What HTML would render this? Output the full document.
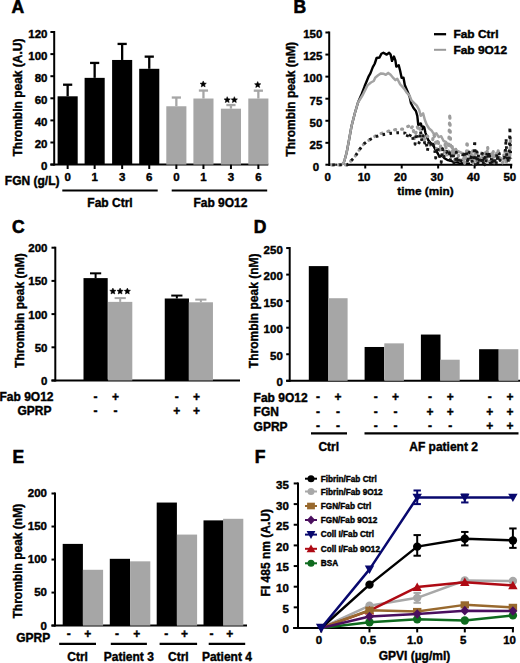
<!DOCTYPE html>
<html><head><meta charset="utf-8"><style>
html,body{margin:0;padding:0;background:#fff;}
svg{display:block;font-family:"Liberation Sans",sans-serif;font-weight:bold;}
</style></head><body>
<svg width="520" height="663" viewBox="0 0 520 663">
<rect width="520" height="663" fill="#fff"/>
<text x="11.50" y="12.80" font-size="17.5" stroke="#000" stroke-width="0.6">A</text>
<line x1="54.20" y1="31.00" x2="54.20" y2="165.60" stroke="#000" stroke-width="2.0" />
<line x1="50.40" y1="164.60" x2="54.20" y2="164.60" stroke="#000" stroke-width="2.0" />
<text x="47.50" y="170.40" font-size="11.5" text-anchor="end" fill="#000" stroke="#000" stroke-width="0.4" >0</text>
<line x1="50.40" y1="142.50" x2="54.20" y2="142.50" stroke="#000" stroke-width="2.0" />
<text x="47.50" y="148.30" font-size="11.5" text-anchor="end" fill="#000" stroke="#000" stroke-width="0.4" >20</text>
<line x1="50.40" y1="120.40" x2="54.20" y2="120.40" stroke="#000" stroke-width="2.0" />
<text x="47.50" y="126.20" font-size="11.5" text-anchor="end" fill="#000" stroke="#000" stroke-width="0.4" >40</text>
<line x1="50.40" y1="98.30" x2="54.20" y2="98.30" stroke="#000" stroke-width="2.0" />
<text x="47.50" y="104.10" font-size="11.5" text-anchor="end" fill="#000" stroke="#000" stroke-width="0.4" >60</text>
<line x1="50.40" y1="76.20" x2="54.20" y2="76.20" stroke="#000" stroke-width="2.0" />
<text x="47.50" y="82.00" font-size="11.5" text-anchor="end" fill="#000" stroke="#000" stroke-width="0.4" >80</text>
<line x1="50.40" y1="54.10" x2="54.20" y2="54.10" stroke="#000" stroke-width="2.0" />
<text x="47.50" y="59.90" font-size="11.5" text-anchor="end" fill="#000" stroke="#000" stroke-width="0.4" >100</text>
<line x1="50.40" y1="32.00" x2="54.20" y2="32.00" stroke="#000" stroke-width="2.0" />
<text x="47.50" y="37.80" font-size="11.5" text-anchor="end" fill="#000" stroke="#000" stroke-width="0.4" >120</text>
<line x1="50.40" y1="164.60" x2="268.30" y2="164.60" stroke="#000" stroke-width="2.0" />
<text x="0" y="0" font-size="12" text-anchor="middle" stroke="#000" stroke-width="0.4" transform="translate(22.00,97.50) rotate(-90)">Thrombin peak (A.U)</text>
<rect x="57.60" y="96.31" width="20.10" height="68.29" fill="#000"/>
<line x1="67.65" y1="96.31" x2="67.65" y2="84.71" stroke="#000" stroke-width="2.3" />
<line x1="63.05" y1="84.71" x2="72.25" y2="84.71" stroke="#000" stroke-width="2.3" />
<line x1="67.65" y1="164.60" x2="67.65" y2="169.00" stroke="#000" stroke-width="2.0" />
<text x="67.65" y="181.20" font-size="11.5" text-anchor="middle" fill="#000" stroke="#000" stroke-width="0.4" >0</text>
<rect x="84.60" y="77.86" width="20.10" height="86.74" fill="#000"/>
<line x1="94.65" y1="77.86" x2="94.65" y2="62.94" stroke="#000" stroke-width="2.3" />
<line x1="90.05" y1="62.94" x2="99.25" y2="62.94" stroke="#000" stroke-width="2.3" />
<line x1="94.65" y1="164.60" x2="94.65" y2="169.00" stroke="#000" stroke-width="2.0" />
<text x="94.65" y="181.20" font-size="11.5" text-anchor="middle" fill="#000" stroke="#000" stroke-width="0.4" >1</text>
<rect x="112.10" y="59.96" width="20.10" height="104.64" fill="#000"/>
<line x1="122.15" y1="59.96" x2="122.15" y2="43.93" stroke="#000" stroke-width="2.3" />
<line x1="117.55" y1="43.93" x2="126.75" y2="43.93" stroke="#000" stroke-width="2.3" />
<line x1="122.15" y1="164.60" x2="122.15" y2="169.00" stroke="#000" stroke-width="2.0" />
<text x="122.15" y="181.20" font-size="11.5" text-anchor="middle" fill="#000" stroke="#000" stroke-width="0.4" >3</text>
<rect x="139.20" y="68.80" width="20.10" height="95.80" fill="#000"/>
<line x1="149.25" y1="68.80" x2="149.25" y2="56.64" stroke="#000" stroke-width="2.3" />
<line x1="144.65" y1="56.64" x2="153.85" y2="56.64" stroke="#000" stroke-width="2.3" />
<line x1="149.25" y1="164.60" x2="149.25" y2="169.00" stroke="#000" stroke-width="2.0" />
<text x="149.25" y="181.20" font-size="11.5" text-anchor="middle" fill="#000" stroke="#000" stroke-width="0.4" >6</text>
<rect x="166.30" y="106.26" width="20.10" height="58.34" fill="#a6a6a6"/>
<line x1="176.35" y1="106.26" x2="176.35" y2="97.53" stroke="#a6a6a6" stroke-width="2.3" />
<line x1="171.75" y1="97.53" x2="180.95" y2="97.53" stroke="#a6a6a6" stroke-width="2.3" />
<line x1="176.35" y1="164.60" x2="176.35" y2="169.00" stroke="#000" stroke-width="2.0" />
<text x="176.35" y="181.20" font-size="11.5" text-anchor="middle" fill="#000" stroke="#000" stroke-width="0.4" >0</text>
<rect x="193.40" y="98.52" width="20.10" height="66.08" fill="#a6a6a6"/>
<line x1="203.45" y1="98.52" x2="203.45" y2="90.56" stroke="#a6a6a6" stroke-width="2.3" />
<line x1="198.85" y1="90.56" x2="208.05" y2="90.56" stroke="#a6a6a6" stroke-width="2.3" />
<line x1="203.45" y1="164.60" x2="203.45" y2="169.00" stroke="#000" stroke-width="2.0" />
<text x="203.45" y="181.20" font-size="11.5" text-anchor="middle" fill="#000" stroke="#000" stroke-width="0.4" >1</text>
<rect x="220.90" y="108.69" width="20.10" height="55.91" fill="#a6a6a6"/>
<line x1="230.95" y1="108.69" x2="230.95" y2="105.04" stroke="#a6a6a6" stroke-width="2.3" />
<line x1="226.35" y1="105.04" x2="235.55" y2="105.04" stroke="#a6a6a6" stroke-width="2.3" />
<line x1="230.95" y1="164.60" x2="230.95" y2="169.00" stroke="#000" stroke-width="2.0" />
<text x="230.95" y="181.20" font-size="11.5" text-anchor="middle" fill="#000" stroke="#000" stroke-width="0.4" >3</text>
<rect x="248.30" y="98.52" width="20.10" height="66.08" fill="#a6a6a6"/>
<line x1="258.35" y1="98.52" x2="258.35" y2="90.68" stroke="#a6a6a6" stroke-width="2.3" />
<line x1="253.75" y1="90.68" x2="262.95" y2="90.68" stroke="#a6a6a6" stroke-width="2.3" />
<line x1="258.35" y1="164.60" x2="258.35" y2="169.00" stroke="#000" stroke-width="2.0" />
<text x="258.35" y="181.20" font-size="11.5" text-anchor="middle" fill="#000" stroke="#000" stroke-width="0.4" >6</text>
<text x="59.50" y="185.00" font-size="12" text-anchor="end" fill="#000" stroke="#000" stroke-width="0.4" >FGN (g/L)</text>
<line x1="62.30" y1="190.50" x2="157.70" y2="190.50" stroke="#000" stroke-width="2.2" />
<line x1="171.70" y1="190.50" x2="267.20" y2="190.50" stroke="#000" stroke-width="2.2" />
<text x="110.00" y="206.60" font-size="12" text-anchor="middle" fill="#000" stroke="#000" stroke-width="0.4" >Fab Ctrl</text>
<text x="220.40" y="206.60" font-size="12" text-anchor="middle" fill="#000" stroke="#000" stroke-width="0.4" >Fab 9O12</text>
<polygon points="203.20,80.95 204.11,83.00 206.34,83.23 204.67,84.73 205.14,86.92 203.20,85.80 201.26,86.92 201.73,84.73 200.06,83.23 202.29,83.00" fill="#000" stroke="#000" stroke-width="0.5" stroke-linejoin="round"/>
<polygon points="227.20,96.65 228.11,98.70 230.34,98.93 228.67,100.43 229.14,102.62 227.20,101.50 225.26,102.62 225.73,100.43 224.06,98.93 226.29,98.70" fill="#000" stroke="#000" stroke-width="0.5" stroke-linejoin="round"/>
<polygon points="234.35,96.65 235.26,98.70 237.49,98.93 235.82,100.43 236.29,102.62 234.35,101.50 232.41,102.62 232.88,100.43 231.21,98.93 233.44,98.70" fill="#000" stroke="#000" stroke-width="0.5" stroke-linejoin="round"/>
<polygon points="257.70,81.55 258.61,83.60 260.84,83.83 259.17,85.33 259.64,87.52 257.70,86.40 255.76,87.52 256.23,85.33 254.56,83.83 256.79,83.60" fill="#000" stroke="#000" stroke-width="0.5" stroke-linejoin="round"/>
<text x="293.50" y="12.50" font-size="17.5" stroke="#000" stroke-width="0.6">B</text>
<line x1="329.20" y1="31.50" x2="329.20" y2="165.90" stroke="#000" stroke-width="2.0" />
<line x1="325.40" y1="142.83" x2="329.20" y2="142.83" stroke="#000" stroke-width="2.0" />
<text x="322.40" y="148.63" font-size="11.5" text-anchor="end" fill="#000" stroke="#000" stroke-width="0.4" >25</text>
<line x1="325.40" y1="120.77" x2="329.20" y2="120.77" stroke="#000" stroke-width="2.0" />
<text x="322.40" y="126.56" font-size="11.5" text-anchor="end" fill="#000" stroke="#000" stroke-width="0.4" >50</text>
<line x1="325.40" y1="98.70" x2="329.20" y2="98.70" stroke="#000" stroke-width="2.0" />
<text x="322.40" y="104.50" font-size="11.5" text-anchor="end" fill="#000" stroke="#000" stroke-width="0.4" >75</text>
<line x1="325.40" y1="76.63" x2="329.20" y2="76.63" stroke="#000" stroke-width="2.0" />
<text x="322.40" y="82.43" font-size="11.5" text-anchor="end" fill="#000" stroke="#000" stroke-width="0.4" >100</text>
<line x1="325.40" y1="54.56" x2="329.20" y2="54.56" stroke="#000" stroke-width="2.0" />
<text x="322.40" y="60.36" font-size="11.5" text-anchor="end" fill="#000" stroke="#000" stroke-width="0.4" >125</text>
<line x1="325.40" y1="32.50" x2="329.20" y2="32.50" stroke="#000" stroke-width="2.0" />
<text x="322.40" y="38.30" font-size="11.5" text-anchor="end" fill="#000" stroke="#000" stroke-width="0.4" >150</text>
<text x="319.20" y="170.70" font-size="11.5" text-anchor="end" fill="#000" stroke="#000" stroke-width="0.4" >0</text>
<line x1="325.40" y1="164.70" x2="331.50" y2="164.70" stroke="#000" stroke-width="2.0" />
<line x1="344.60" y1="164.70" x2="512.30" y2="164.70" stroke="#000" stroke-width="2.0" />
<rect x="333.20" y="163.60" width="2.00" height="2.20" fill="#222"/>
<rect x="335.20" y="163.60" width="2.00" height="2.20" fill="#222"/>
<rect x="338.20" y="163.60" width="2.00" height="2.20" fill="#222"/>
<line x1="365.25" y1="164.70" x2="365.25" y2="168.50" stroke="#000" stroke-width="2.0" />
<line x1="401.70" y1="164.70" x2="401.70" y2="168.50" stroke="#000" stroke-width="2.0" />
<line x1="438.15" y1="164.70" x2="438.15" y2="168.50" stroke="#000" stroke-width="2.0" />
<line x1="474.60" y1="164.70" x2="474.60" y2="168.50" stroke="#000" stroke-width="2.0" />
<line x1="511.05" y1="164.70" x2="511.05" y2="168.50" stroke="#000" stroke-width="2.0" />
<text x="327.60" y="181.20" font-size="11.5" text-anchor="middle" fill="#000" stroke="#000" stroke-width="0.4" >0</text>
<text x="364.05" y="181.20" font-size="11.5" text-anchor="middle" fill="#000" stroke="#000" stroke-width="0.4" >10</text>
<text x="400.50" y="181.20" font-size="11.5" text-anchor="middle" fill="#000" stroke="#000" stroke-width="0.4" >20</text>
<text x="436.95" y="181.20" font-size="11.5" text-anchor="middle" fill="#000" stroke="#000" stroke-width="0.4" >30</text>
<text x="473.40" y="181.20" font-size="11.5" text-anchor="middle" fill="#000" stroke="#000" stroke-width="0.4" >40</text>
<text x="509.85" y="181.20" font-size="11.5" text-anchor="middle" fill="#000" stroke="#000" stroke-width="0.4" >50</text>
<text x="425.40" y="195.30" font-size="11.8" text-anchor="middle" fill="#000" stroke="#000" stroke-width="0.4" >time (min)</text>
<text x="0" y="0" font-size="12" text-anchor="middle" stroke="#000" stroke-width="0.4" transform="translate(295.30,99.30) rotate(-90)">Thrombin peak (nM)</text>
<line x1="434.00" y1="34.20" x2="446.10" y2="34.20" stroke="#000" stroke-width="2.3" />
<line x1="434.00" y1="49.80" x2="446.10" y2="49.80" stroke="#9a9a9a" stroke-width="2.0" />
<text x="0" y="0" font-size="11" stroke="#000" stroke-width="0.4" transform="translate(453.4,37.8) scale(1.085,1)">Fab Ctrl</text>
<text x="0" y="0" font-size="11" stroke="#000" stroke-width="0.4" transform="translate(453.4,53.8) scale(1.085,1)">Fab 9O12</text>
<polyline points="340.00,164.90 343.50,163.50 344.60,160.00 346.60,152.80 349.10,139.60 351.50,126.30 354.90,113.00 358.00,102.50 361.70,94.00 364.60,86.30 368.50,76.70 370.40,73.40 372.80,67.10 374.70,63.75 376.60,58.00 379.50,57.50 381.40,53.70 383.40,52.70 386.70,54.60 389.10,52.70 390.60,54.60 392.00,60.90 393.90,56.50 395.40,60.40 396.30,66.60 398.75,65.20 400.20,71.00 401.60,77.70 403.50,77.80 404.80,85.00 407.20,90.80 409.60,96.50 411.00,103.30 413.50,108.00 415.90,111.00 417.30,115.80 418.30,125.40 420.20,123.50 421.00,123.70 422.10,129.20 423.20,126.50 424.30,127.50 425.30,132.30 426.70,136.20 428.20,140.00 430.60,142.90 433.50,145.80 435.40,149.60 437.80,153.50 439.20,156.30 442.10,155.40 444.50,158.30 447.90,160.20 451.70,161.20 455.60,162.10 462.00,163.20 470.00,163.80" fill="none" stroke="#000" stroke-width="2.4" stroke-linejoin="round" />
<polyline points="340.00,164.90 343.50,163.50 344.60,160.00 346.60,152.80 349.10,139.60 351.50,126.30 354.90,113.00 358.00,102.50 362.70,95.00 367.50,85.40 370.90,82.50 373.75,81.00 375.20,77.70 378.10,75.30 381.00,73.40 383.80,73.80 385.80,74.80 388.20,72.90 390.60,74.80 393.50,78.20 395.40,80.10 397.30,78.70 400.20,84.40 402.10,86.30 404.30,88.80 406.70,92.70 409.60,95.60 411.50,100.40 414.40,103.30 416.80,105.70 419.20,110.00 420.70,115.80 423.10,113.40 424.80,119.80 426.70,124.60 429.10,128.50 431.50,130.40 433.90,134.20 436.30,133.30 438.75,137.10 441.20,136.20 443.60,141.00 446.00,141.90 448.80,145.80 451.00,145.50 453.70,149.60 458.50,151.50 463.00,153.50 468.00,154.50 473.00,156.50 479.80,157.70 486.00,157.00 494.60,155.50 500.00,158.00 505.20,159.80 510.00,161.00" fill="none" stroke="#a3a3a3" stroke-width="2.5" stroke-linejoin="round" />
<polyline points="331.72,164.90 333.36,164.90 335.00,164.90 336.64,164.90 338.28,164.90 339.92,164.90 341.56,164.90 343.20,164.90 344.84,164.90 346.48,164.90 348.12,164.90 349.76,162.14 351.40,160.42 353.04,158.72 354.68,157.03 356.32,154.55 357.96,151.88 359.60,149.39 361.24,147.21 362.88,145.04 364.52,143.38 366.16,142.19 367.80,141.01 369.44,139.83 371.08,138.78 372.72,137.77 374.36,136.76 376.00,135.78 377.64,135.04 379.28,134.30 380.92,133.56 382.56,133.00 384.20,132.53 385.84,132.06 387.48,131.56 389.12,131.02 390.76,130.47 392.41,130.18 394.05,129.88 395.69,129.58 397.33,129.28 398.97,129.15 400.61,129.15 402.25,129.15 403.89,129.15 405.53,127.91 407.00,126.66 408.48,126.33 409.96,124.68 411.43,127.97 412.91,125.83 414.38,138.87 415.86,133.13 417.34,126.82 418.81,131.40 420.29,128.27 421.77,139.83 423.24,135.23 424.72,140.11 426.19,135.83 427.67,136.26 429.15,147.13 430.62,144.50 432.10,144.36 433.58,134.08 435.05,137.70 436.53,149.37 438.00,139.08 439.48,151.67 440.96,144.18 442.43,153.81 443.91,156.98 445.39,142.60 446.86,155.25 448.34,156.11 449.81,113.70 450.63,146.01 451.45,156.84 452.27,145.51 453.09,153.50 453.91,151.59 454.73,160.48 455.55,148.02 456.38,154.26 457.20,150.37 458.02,151.39 458.84,159.80 459.66,158.92 460.48,161.67 461.30,161.96 462.12,163.10 462.94,159.76 463.76,155.50 464.58,163.97 465.40,154.44 466.22,159.25 467.04,141.07 467.86,152.46 468.68,157.23 469.50,159.56 470.32,157.22 471.14,154.07 471.96,163.21 472.78,150.25 473.60,163.69 474.42,153.43 475.24,152.08 476.06,163.76 476.88,152.89 477.70,158.85 478.52,155.85 479.34,163.89 480.16,163.36 480.98,161.46 481.80,150.53 482.62,161.24 483.44,153.34 484.26,150.89 485.08,150.71 485.90,159.15 486.72,159.01 487.54,146.36 488.36,153.06 489.18,162.49 490.00,153.45 490.82,152.76 491.64,151.88 492.46,163.50 493.28,150.66 494.10,162.73 494.92,159.20 495.74,155.39 496.56,151.05 497.38,159.22 498.20,150.96 499.02,156.32 499.84,159.60 500.66,159.54 501.48,161.51 502.30,162.91 503.12,161.91 503.94,154.28 504.76,149.94 505.58,161.74 506.40,163.33 507.22,150.08 508.04,156.48 508.86,158.28 509.68,160.67 510.50,138.42" fill="none" stroke="#9c9c9c" stroke-width="3.2" stroke-linejoin="round" stroke-dasharray="1.0 6.0" stroke-linecap="round" stroke-linejoin="miter"/>
<polyline points="331.72,164.90 333.25,164.90 334.78,164.90 336.31,164.90 337.84,164.90 339.37,164.90 340.90,164.90 342.43,164.90 343.96,164.90 345.49,164.90 347.03,164.90 348.56,164.16 350.09,161.77 351.62,160.19 353.15,158.61 354.68,157.03 356.21,154.73 357.74,152.24 359.27,149.82 360.80,147.79 362.33,145.77 363.86,143.85 365.40,142.75 366.93,141.64 368.46,140.54 369.99,139.48 371.52,138.74 373.05,138.00 374.58,137.25 376.11,136.56 377.64,136.09 379.17,135.61 380.70,135.14 382.24,134.77 383.77,134.51 385.30,134.25 386.83,133.99 388.36,133.72 389.89,133.45 391.42,133.24 392.95,133.11 394.48,132.98 396.01,132.85 397.54,132.72 399.08,132.74 400.61,132.84 402.14,132.93 403.67,133.02 405.20,133.11 406.73,137.43 408.11,133.70 409.49,136.76 410.86,134.06 412.24,134.35 413.62,142.87 415.00,144.21 416.37,133.16 417.75,141.93 419.13,142.88 420.51,130.96 421.89,141.20 423.26,135.71 424.64,143.03 426.02,141.13 427.40,150.72 428.78,143.14 430.15,139.99 431.53,147.04 432.91,144.16 434.29,146.36 435.66,158.05 437.04,146.76 438.42,150.68 439.80,156.77 441.18,162.51 442.55,148.74 443.93,156.64 445.31,153.27 446.69,151.41 448.06,155.28 449.44,152.77 450.21,160.20 450.97,154.47 451.74,159.50 452.50,152.57 453.27,153.37 454.03,164.41 454.80,163.86 455.57,162.72 456.33,152.15 457.10,159.62 457.86,156.93 458.63,161.53 459.39,158.62 460.16,160.33 460.92,160.83 461.69,157.52 462.45,157.53 463.22,153.01 463.99,156.15 464.75,152.66 465.52,153.69 466.28,151.79 467.05,156.30 467.81,163.48 468.58,153.63 469.34,152.16 470.11,153.01 470.87,157.75 471.64,155.70 472.41,162.80 473.17,154.04 473.94,157.68 474.70,140.18 475.47,164.89 476.23,153.72 477.00,151.80 477.76,164.53 478.53,154.48 479.29,159.99 480.06,163.65 480.83,161.63 481.59,154.92 482.36,153.46 483.12,164.90 483.89,157.10 484.65,164.90 485.42,155.64 486.18,161.11 486.95,153.34 487.71,151.93 488.48,158.64 489.25,151.68 490.01,161.41 490.78,164.70 491.54,157.31 492.31,164.90 493.07,162.99 493.84,160.02 494.60,157.16 495.37,163.58 496.13,164.90 496.90,153.53 497.67,161.35 498.43,152.24 499.20,153.12 499.96,160.45 500.73,159.28 501.49,158.44 502.26,156.69 503.02,157.37 503.79,157.88 504.55,157.02 505.32,152.50 506.09,138.42 506.85,159.69 507.62,155.61 508.38,162.43 509.15,161.53 509.91,126.94 510.68,158.42" fill="none" stroke="#151515" stroke-width="2.9" stroke-linejoin="round" stroke-dasharray="2.6 4.4" stroke-dashoffset="-0.5" stroke-linejoin="miter"/>
<text x="12.00" y="232.80" font-size="17.5" stroke="#000" stroke-width="0.6">C</text>
<line x1="55.30" y1="246.70" x2="55.30" y2="381.50" stroke="#000" stroke-width="2.0" />
<line x1="51.50" y1="380.50" x2="55.30" y2="380.50" stroke="#000" stroke-width="2.0" />
<text x="47.50" y="385.00" font-size="11.5" text-anchor="end" fill="#000" stroke="#000" stroke-width="0.4" >0</text>
<line x1="51.50" y1="347.30" x2="55.30" y2="347.30" stroke="#000" stroke-width="2.0" />
<text x="47.50" y="351.80" font-size="11.5" text-anchor="end" fill="#000" stroke="#000" stroke-width="0.4" >50</text>
<line x1="51.50" y1="314.10" x2="55.30" y2="314.10" stroke="#000" stroke-width="2.0" />
<text x="47.50" y="318.60" font-size="11.5" text-anchor="end" fill="#000" stroke="#000" stroke-width="0.4" >100</text>
<line x1="51.50" y1="280.90" x2="55.30" y2="280.90" stroke="#000" stroke-width="2.0" />
<text x="47.50" y="285.40" font-size="11.5" text-anchor="end" fill="#000" stroke="#000" stroke-width="0.4" >150</text>
<line x1="51.50" y1="247.70" x2="55.30" y2="247.70" stroke="#000" stroke-width="2.0" />
<text x="47.50" y="252.20" font-size="11.5" text-anchor="end" fill="#000" stroke="#000" stroke-width="0.4" >200</text>
<line x1="51.50" y1="380.50" x2="240.00" y2="380.50" stroke="#000" stroke-width="2.0" />
<text x="0" y="0" font-size="12" text-anchor="middle" stroke="#000" stroke-width="0.4" transform="translate(23.70,310.60) rotate(-90)">Thrombin peak (nM)</text>
<rect x="83.50" y="278.11" width="24.20" height="102.39" fill="#000"/>
<line x1="95.60" y1="278.11" x2="95.60" y2="273.33" stroke="#000" stroke-width="2" />
<line x1="90.00" y1="273.33" x2="101.20" y2="273.33" stroke="#000" stroke-width="2" />
<rect x="108.10" y="301.88" width="24.20" height="78.62" fill="#a6a6a6"/>
<line x1="120.20" y1="301.88" x2="120.20" y2="298.10" stroke="#a6a6a6" stroke-width="2" />
<line x1="114.60" y1="298.10" x2="125.80" y2="298.10" stroke="#a6a6a6" stroke-width="2" />
<rect x="164.75" y="298.50" width="24.20" height="82.00" fill="#000"/>
<line x1="176.85" y1="298.50" x2="176.85" y2="295.57" stroke="#000" stroke-width="2" />
<line x1="171.25" y1="295.57" x2="182.45" y2="295.57" stroke="#000" stroke-width="2" />
<rect x="188.75" y="302.28" width="24.20" height="78.22" fill="#a6a6a6"/>
<line x1="200.85" y1="302.28" x2="200.85" y2="299.62" stroke="#a6a6a6" stroke-width="2" />
<line x1="195.25" y1="299.62" x2="206.45" y2="299.62" stroke="#a6a6a6" stroke-width="2" />
<polygon points="112.90,288.05 113.81,290.10 116.04,290.33 114.37,291.83 114.84,294.02 112.90,292.90 110.96,294.02 111.43,291.83 109.76,290.33 111.99,290.10" fill="#000" stroke="#000" stroke-width="0.5" stroke-linejoin="round"/>
<polygon points="120.10,288.05 121.01,290.10 123.24,290.33 121.57,291.83 122.04,294.02 120.10,292.90 118.16,294.02 118.63,291.83 116.96,290.33 119.19,290.10" fill="#000" stroke="#000" stroke-width="0.5" stroke-linejoin="round"/>
<polygon points="127.35,288.05 128.26,290.10 130.49,290.33 128.82,291.83 129.29,294.02 127.35,292.90 125.41,294.02 125.88,291.83 124.21,290.33 126.44,290.10" fill="#000" stroke="#000" stroke-width="0.5" stroke-linejoin="round"/>
<text x="95.60" y="400.60" font-size="12" text-anchor="middle" fill="#000" stroke="#000" stroke-width="0.4" >-</text>
<text x="95.60" y="414.50" font-size="12" text-anchor="middle" fill="#000" stroke="#000" stroke-width="0.4" >-</text>
<text x="115.40" y="400.60" font-size="12" text-anchor="middle" fill="#000" stroke="#000" stroke-width="0.4" >+</text>
<text x="115.40" y="414.50" font-size="12" text-anchor="middle" fill="#000" stroke="#000" stroke-width="0.4" >-</text>
<text x="176.80" y="400.60" font-size="12" text-anchor="middle" fill="#000" stroke="#000" stroke-width="0.4" >-</text>
<text x="176.80" y="414.50" font-size="12" text-anchor="middle" fill="#000" stroke="#000" stroke-width="0.4" >+</text>
<text x="196.50" y="400.60" font-size="12" text-anchor="middle" fill="#000" stroke="#000" stroke-width="0.4" >+</text>
<text x="196.50" y="414.50" font-size="12" text-anchor="middle" fill="#000" stroke="#000" stroke-width="0.4" >+</text>
<text x="53.50" y="400.80" font-size="12" text-anchor="end" fill="#000" stroke="#000" stroke-width="0.4" >Fab 9O12</text>
<text x="51.50" y="414.50" font-size="12" text-anchor="end" fill="#000" stroke="#000" stroke-width="0.4" >GPRP</text>
<text x="253.80" y="232.60" font-size="17.5" stroke="#000" stroke-width="0.6">D</text>
<line x1="289.70" y1="247.05" x2="289.70" y2="381.80" stroke="#000" stroke-width="2.0" />
<line x1="286.20" y1="380.80" x2="289.70" y2="380.80" stroke="#000" stroke-width="2.0" />
<text x="282.80" y="386.30" font-size="11.5" text-anchor="end" fill="#000" stroke="#000" stroke-width="0.4" >0</text>
<line x1="286.20" y1="354.25" x2="289.70" y2="354.25" stroke="#000" stroke-width="2.0" />
<text x="282.80" y="359.75" font-size="11.5" text-anchor="end" fill="#000" stroke="#000" stroke-width="0.4" >50</text>
<line x1="286.20" y1="327.70" x2="289.70" y2="327.70" stroke="#000" stroke-width="2.0" />
<text x="282.80" y="333.20" font-size="11.5" text-anchor="end" fill="#000" stroke="#000" stroke-width="0.4" >100</text>
<line x1="286.20" y1="301.15" x2="289.70" y2="301.15" stroke="#000" stroke-width="2.0" />
<text x="282.80" y="306.65" font-size="11.5" text-anchor="end" fill="#000" stroke="#000" stroke-width="0.4" >150</text>
<line x1="286.20" y1="274.60" x2="289.70" y2="274.60" stroke="#000" stroke-width="2.0" />
<text x="282.80" y="280.10" font-size="11.5" text-anchor="end" fill="#000" stroke="#000" stroke-width="0.4" >200</text>
<line x1="286.20" y1="248.05" x2="289.70" y2="248.05" stroke="#000" stroke-width="2.0" />
<text x="282.80" y="253.55" font-size="11.5" text-anchor="end" fill="#000" stroke="#000" stroke-width="0.4" >250</text>
<line x1="286.20" y1="380.80" x2="520.00" y2="380.80" stroke="#000" stroke-width="2.0" />
<text x="0" y="0" font-size="12" text-anchor="middle" stroke="#000" stroke-width="0.4" transform="translate(257.50,310.80) rotate(-90)">Thrombin peak (nM)</text>
<rect x="308.80" y="266.10" width="19.60" height="114.70" fill="#000"/>
<rect x="328.00" y="298.23" width="19.60" height="82.57" fill="#a6a6a6"/>
<rect x="364.60" y="346.98" width="19.60" height="33.82" fill="#000"/>
<rect x="384.30" y="343.36" width="19.60" height="37.44" fill="#a6a6a6"/>
<rect x="420.90" y="334.55" width="19.60" height="46.25" fill="#000"/>
<rect x="440.10" y="359.72" width="19.60" height="21.08" fill="#a6a6a6"/>
<rect x="479.10" y="349.21" width="19.60" height="31.59" fill="#000"/>
<rect x="498.70" y="349.21" width="19.60" height="31.59" fill="#a6a6a6"/>
<text x="318.00" y="401.40" font-size="12" text-anchor="middle" fill="#000" stroke="#000" stroke-width="0.4" >-</text>
<text x="318.00" y="415.80" font-size="12" text-anchor="middle" fill="#000" stroke="#000" stroke-width="0.4" >-</text>
<text x="318.00" y="429.80" font-size="12" text-anchor="middle" fill="#000" stroke="#000" stroke-width="0.4" >-</text>
<text x="338.10" y="401.40" font-size="12" text-anchor="middle" fill="#000" stroke="#000" stroke-width="0.4" >+</text>
<text x="338.10" y="415.80" font-size="12" text-anchor="middle" fill="#000" stroke="#000" stroke-width="0.4" >-</text>
<text x="338.10" y="429.80" font-size="12" text-anchor="middle" fill="#000" stroke="#000" stroke-width="0.4" >-</text>
<text x="375.70" y="401.40" font-size="12" text-anchor="middle" fill="#000" stroke="#000" stroke-width="0.4" >-</text>
<text x="375.70" y="415.80" font-size="12" text-anchor="middle" fill="#000" stroke="#000" stroke-width="0.4" >-</text>
<text x="375.70" y="429.80" font-size="12" text-anchor="middle" fill="#000" stroke="#000" stroke-width="0.4" >-</text>
<text x="395.60" y="401.40" font-size="12" text-anchor="middle" fill="#000" stroke="#000" stroke-width="0.4" >+</text>
<text x="395.60" y="415.80" font-size="12" text-anchor="middle" fill="#000" stroke="#000" stroke-width="0.4" >-</text>
<text x="395.60" y="429.80" font-size="12" text-anchor="middle" fill="#000" stroke="#000" stroke-width="0.4" >-</text>
<text x="430.00" y="401.40" font-size="12" text-anchor="middle" fill="#000" stroke="#000" stroke-width="0.4" >-</text>
<text x="430.00" y="415.80" font-size="12" text-anchor="middle" fill="#000" stroke="#000" stroke-width="0.4" >+</text>
<text x="430.00" y="429.80" font-size="12" text-anchor="middle" fill="#000" stroke="#000" stroke-width="0.4" >-</text>
<text x="450.20" y="401.40" font-size="12" text-anchor="middle" fill="#000" stroke="#000" stroke-width="0.4" >+</text>
<text x="450.20" y="415.80" font-size="12" text-anchor="middle" fill="#000" stroke="#000" stroke-width="0.4" >+</text>
<text x="450.20" y="429.80" font-size="12" text-anchor="middle" fill="#000" stroke="#000" stroke-width="0.4" >-</text>
<text x="489.70" y="401.40" font-size="12" text-anchor="middle" fill="#000" stroke="#000" stroke-width="0.4" >-</text>
<text x="489.70" y="415.80" font-size="12" text-anchor="middle" fill="#000" stroke="#000" stroke-width="0.4" >+</text>
<text x="489.70" y="429.80" font-size="12" text-anchor="middle" fill="#000" stroke="#000" stroke-width="0.4" >+</text>
<text x="509.90" y="401.40" font-size="12" text-anchor="middle" fill="#000" stroke="#000" stroke-width="0.4" >+</text>
<text x="509.90" y="415.80" font-size="12" text-anchor="middle" fill="#000" stroke="#000" stroke-width="0.4" >+</text>
<text x="509.90" y="429.80" font-size="12" text-anchor="middle" fill="#000" stroke="#000" stroke-width="0.4" >+</text>
<text x="253.60" y="401.80" font-size="12" text-anchor="start" fill="#000" stroke="#000" stroke-width="0.4" >Fab 9O12</text>
<text x="253.60" y="416.40" font-size="12" text-anchor="start" fill="#000" stroke="#000" stroke-width="0.4" >FGN</text>
<text x="253.60" y="430.60" font-size="12" text-anchor="start" fill="#000" stroke="#000" stroke-width="0.4" >GPRP</text>
<line x1="311.00" y1="433.30" x2="347.00" y2="433.30" stroke="#000" stroke-width="2.2" />
<line x1="364.50" y1="433.30" x2="518.50" y2="433.30" stroke="#000" stroke-width="2.2" />
<text x="328.80" y="450.50" font-size="12" text-anchor="middle" fill="#000" stroke="#000" stroke-width="0.4" >Ctrl</text>
<text x="443.60" y="450.50" font-size="12" text-anchor="middle" fill="#000" stroke="#000" stroke-width="0.4" >AF patient 2</text>
<text x="12.50" y="462.80" font-size="17.5" stroke="#000" stroke-width="0.6">E</text>
<line x1="55.00" y1="492.50" x2="55.00" y2="626.60" stroke="#000" stroke-width="2.0" />
<line x1="51.50" y1="625.60" x2="55.00" y2="625.60" stroke="#000" stroke-width="2.0" />
<text x="47.00" y="629.50" font-size="11.5" text-anchor="end" fill="#000" stroke="#000" stroke-width="0.4" >0</text>
<line x1="51.50" y1="592.58" x2="55.00" y2="592.58" stroke="#000" stroke-width="2.0" />
<text x="47.00" y="596.48" font-size="11.5" text-anchor="end" fill="#000" stroke="#000" stroke-width="0.4" >50</text>
<line x1="51.50" y1="559.55" x2="55.00" y2="559.55" stroke="#000" stroke-width="2.0" />
<text x="47.00" y="563.45" font-size="11.5" text-anchor="end" fill="#000" stroke="#000" stroke-width="0.4" >100</text>
<line x1="51.50" y1="526.52" x2="55.00" y2="526.52" stroke="#000" stroke-width="2.0" />
<text x="47.00" y="530.42" font-size="11.5" text-anchor="end" fill="#000" stroke="#000" stroke-width="0.4" >150</text>
<line x1="51.50" y1="493.50" x2="55.00" y2="493.50" stroke="#000" stroke-width="2.0" />
<text x="47.00" y="497.40" font-size="11.5" text-anchor="end" fill="#000" stroke="#000" stroke-width="0.4" >200</text>
<line x1="51.50" y1="625.60" x2="247.00" y2="625.60" stroke="#000" stroke-width="2.0" />
<text x="0" y="0" font-size="12" text-anchor="middle" stroke="#000" stroke-width="0.4" transform="translate(22.20,561.20) rotate(-90)">Thrombin peak (nM)</text>
<rect x="62.70" y="543.90" width="20.20" height="81.70" fill="#000"/>
<rect x="82.90" y="569.79" width="20.20" height="55.81" fill="#a6a6a6"/>
<rect x="109.80" y="558.82" width="20.20" height="66.78" fill="#000"/>
<rect x="130.10" y="561.33" width="20.20" height="64.27" fill="#a6a6a6"/>
<rect x="156.70" y="502.55" width="20.20" height="123.05" fill="#000"/>
<rect x="176.90" y="534.58" width="20.20" height="91.02" fill="#a6a6a6"/>
<rect x="203.50" y="520.38" width="20.20" height="105.22" fill="#000"/>
<rect x="223.10" y="518.80" width="20.20" height="106.80" fill="#a6a6a6"/>
<text x="68.80" y="637.60" font-size="12" text-anchor="middle" fill="#000" stroke="#000" stroke-width="0.4" >-</text>
<text x="87.70" y="637.60" font-size="12" text-anchor="middle" fill="#000" stroke="#000" stroke-width="0.4" >+</text>
<text x="116.90" y="637.60" font-size="12" text-anchor="middle" fill="#000" stroke="#000" stroke-width="0.4" >-</text>
<text x="136.70" y="637.60" font-size="12" text-anchor="middle" fill="#000" stroke="#000" stroke-width="0.4" >+</text>
<text x="166.30" y="637.60" font-size="12" text-anchor="middle" fill="#000" stroke="#000" stroke-width="0.4" >-</text>
<text x="184.60" y="637.60" font-size="12" text-anchor="middle" fill="#000" stroke="#000" stroke-width="0.4" >+</text>
<text x="211.50" y="637.60" font-size="12" text-anchor="middle" fill="#000" stroke="#000" stroke-width="0.4" >-</text>
<text x="229.80" y="637.60" font-size="12" text-anchor="middle" fill="#000" stroke="#000" stroke-width="0.4" >+</text>
<text x="50.30" y="642.30" font-size="12" text-anchor="end" fill="#000" stroke="#000" stroke-width="0.4" >GPRP</text>
<line x1="59.20" y1="643.80" x2="96.00" y2="643.80" stroke="#000" stroke-width="2.2" />
<text x="77.60" y="661.00" font-size="12" text-anchor="middle" fill="#000" stroke="#000" stroke-width="0.4" >Ctrl</text>
<line x1="110.80" y1="643.80" x2="146.90" y2="643.80" stroke="#000" stroke-width="2.2" />
<text x="128.85" y="661.00" font-size="12" text-anchor="middle" fill="#000" stroke="#000" stroke-width="0.4" >Patient 3</text>
<line x1="159.60" y1="643.80" x2="197.10" y2="643.80" stroke="#000" stroke-width="2.2" />
<text x="178.35" y="661.00" font-size="12" text-anchor="middle" fill="#000" stroke="#000" stroke-width="0.4" >Ctrl</text>
<line x1="208.70" y1="643.80" x2="245.20" y2="643.80" stroke="#000" stroke-width="2.2" />
<text x="226.95" y="661.00" font-size="12" text-anchor="middle" fill="#000" stroke="#000" stroke-width="0.4" >Patient 4</text>
<text x="254.80" y="462.80" font-size="17.5" stroke="#000" stroke-width="0.6">F</text>
<line x1="298.00" y1="482.45" x2="298.00" y2="629.00" stroke="#000" stroke-width="2.0" />
<line x1="293.70" y1="628.00" x2="298.00" y2="628.00" stroke="#000" stroke-width="2.0" />
<text x="288.80" y="633.40" font-size="11.5" text-anchor="end" fill="#000" stroke="#000" stroke-width="0.4" >0</text>
<line x1="293.70" y1="607.35" x2="298.00" y2="607.35" stroke="#000" stroke-width="2.0" />
<text x="288.80" y="612.75" font-size="11.5" text-anchor="end" fill="#000" stroke="#000" stroke-width="0.4" >5</text>
<line x1="293.70" y1="586.70" x2="298.00" y2="586.70" stroke="#000" stroke-width="2.0" />
<text x="288.80" y="592.10" font-size="11.5" text-anchor="end" fill="#000" stroke="#000" stroke-width="0.4" >10</text>
<line x1="293.70" y1="566.05" x2="298.00" y2="566.05" stroke="#000" stroke-width="2.0" />
<text x="288.80" y="571.45" font-size="11.5" text-anchor="end" fill="#000" stroke="#000" stroke-width="0.4" >15</text>
<line x1="293.70" y1="545.40" x2="298.00" y2="545.40" stroke="#000" stroke-width="2.0" />
<text x="288.80" y="550.80" font-size="11.5" text-anchor="end" fill="#000" stroke="#000" stroke-width="0.4" >20</text>
<line x1="293.70" y1="524.75" x2="298.00" y2="524.75" stroke="#000" stroke-width="2.0" />
<text x="288.80" y="530.15" font-size="11.5" text-anchor="end" fill="#000" stroke="#000" stroke-width="0.4" >25</text>
<line x1="293.70" y1="504.10" x2="298.00" y2="504.10" stroke="#000" stroke-width="2.0" />
<text x="288.80" y="509.50" font-size="11.5" text-anchor="end" fill="#000" stroke="#000" stroke-width="0.4" >30</text>
<line x1="293.70" y1="483.45" x2="298.00" y2="483.45" stroke="#000" stroke-width="2.0" />
<text x="288.80" y="488.85" font-size="11.5" text-anchor="end" fill="#000" stroke="#000" stroke-width="0.4" >35</text>
<line x1="293.10" y1="628.00" x2="514.00" y2="628.00" stroke="#000" stroke-width="2.0" />
<line x1="321.20" y1="628.00" x2="321.20" y2="632.40" stroke="#000" stroke-width="2.0" />
<text x="319.00" y="644.20" font-size="11.5" text-anchor="middle" fill="#000" stroke="#000" stroke-width="0.4" >0</text>
<line x1="369.50" y1="628.00" x2="369.50" y2="632.40" stroke="#000" stroke-width="2.0" />
<text x="368.10" y="644.20" font-size="11.5" text-anchor="middle" fill="#000" stroke="#000" stroke-width="0.4" >0.5</text>
<line x1="417.20" y1="628.00" x2="417.20" y2="632.40" stroke="#000" stroke-width="2.0" />
<text x="414.90" y="644.20" font-size="11.5" text-anchor="middle" fill="#000" stroke="#000" stroke-width="0.4" >1.0</text>
<line x1="464.80" y1="628.00" x2="464.80" y2="632.40" stroke="#000" stroke-width="2.0" />
<text x="463.20" y="644.20" font-size="11.5" text-anchor="middle" fill="#000" stroke="#000" stroke-width="0.4" >5</text>
<line x1="512.90" y1="628.00" x2="512.90" y2="632.40" stroke="#000" stroke-width="2.0" />
<text x="509.60" y="644.20" font-size="11.5" text-anchor="middle" fill="#000" stroke="#000" stroke-width="0.4" >10</text>
<text x="414.50" y="659.80" font-size="12" text-anchor="middle" fill="#000" stroke="#000" stroke-width="0.4" >GPVI (µg/ml)</text>
<text x="0" y="0" font-size="12" text-anchor="middle" stroke="#000" stroke-width="0.4" transform="translate(269.80,552.75) rotate(-90)">FI 485 nm (A.U)</text>
<polyline points="321.20,628.00 369.50,622.22 417.20,619.33 464.80,620.57 512.90,615.40" fill="none" stroke="#0e6a1e" stroke-width="2.5" stroke-linejoin="round" />
<circle cx="369.50" cy="622.22" r="4.2" fill="#0e6a1e"/>
<circle cx="417.20" cy="619.33" r="4.2" fill="#0e6a1e"/>
<circle cx="464.80" cy="620.57" r="4.2" fill="#0e6a1e"/>
<circle cx="512.90" cy="615.40" r="4.2" fill="#0e6a1e"/>
<polyline points="321.20,628.00 369.50,605.70 417.20,597.85 464.80,580.50 512.90,580.92" fill="none" stroke="#a8a8a8" stroke-width="2.5" stroke-linejoin="round" />
<circle cx="369.50" cy="605.70" r="4.2" fill="#a8a8a8"/>
<line x1="417.20" y1="592.89" x2="417.20" y2="602.81" stroke="#a8a8a8" stroke-width="2" />
<line x1="413.50" y1="592.89" x2="420.90" y2="592.89" stroke="#a8a8a8" stroke-width="2" />
<line x1="413.50" y1="602.81" x2="420.90" y2="602.81" stroke="#a8a8a8" stroke-width="2" />
<circle cx="417.20" cy="597.85" r="4.2" fill="#a8a8a8"/>
<circle cx="464.80" cy="580.50" r="4.2" fill="#a8a8a8"/>
<circle cx="512.90" cy="580.92" r="4.2" fill="#a8a8a8"/>
<polyline points="321.20,628.00 369.50,610.65 417.20,587.11 464.80,582.16 512.90,585.46" fill="none" stroke="#ae0a14" stroke-width="2.5" stroke-linejoin="round" />
<polygon points="364.80,614.43 374.20,614.43 369.50,606.03" fill="#ae0a14"/>
<polygon points="412.50,590.89 421.90,590.89 417.20,582.49" fill="#ae0a14"/>
<polygon points="460.10,585.94 469.50,585.94 464.80,577.54" fill="#ae0a14"/>
<polygon points="508.20,589.24 517.60,589.24 512.90,580.84" fill="#ae0a14"/>
<polyline points="321.20,628.00 369.50,610.24 417.20,611.48 464.80,604.87 512.90,607.35" fill="none" stroke="#98692e" stroke-width="2.5" stroke-linejoin="round" />
<rect x="365.30" y="606.67" width="8.40" height="7.14" fill="#98692e"/>
<rect x="413.00" y="607.91" width="8.40" height="7.14" fill="#98692e"/>
<rect x="460.60" y="601.30" width="8.40" height="7.14" fill="#98692e"/>
<rect x="508.70" y="603.78" width="8.40" height="7.14" fill="#98692e"/>
<polyline points="321.20,628.00 369.50,616.44 417.20,613.96 464.80,610.65 512.90,611.07" fill="none" stroke="#4a0f5e" stroke-width="2.5" stroke-linejoin="round" />
<polygon points="369.50,611.64 374.00,616.44 369.50,621.24 365.00,616.44" fill="#4a0f5e"/>
<polygon points="417.20,609.16 421.70,613.96 417.20,618.76 412.70,613.96" fill="#4a0f5e"/>
<polygon points="464.80,605.85 469.30,610.65 464.80,615.45 460.30,610.65" fill="#4a0f5e"/>
<polygon points="512.90,606.27 517.40,611.07 512.90,615.87 508.40,611.07" fill="#4a0f5e"/>
<polyline points="321.20,628.00 369.50,584.63 417.20,546.64 464.80,538.79 512.90,540.44" fill="none" stroke="#000" stroke-width="2.5" stroke-linejoin="round" />
<circle cx="369.50" cy="584.63" r="4.2" fill="#000"/>
<line x1="417.20" y1="535.08" x2="417.20" y2="555.73" stroke="#000" stroke-width="2" />
<line x1="413.50" y1="535.08" x2="420.90" y2="535.08" stroke="#000" stroke-width="2" />
<line x1="413.50" y1="555.73" x2="420.90" y2="555.73" stroke="#000" stroke-width="2" />
<circle cx="417.20" cy="546.64" r="4.2" fill="#000"/>
<line x1="464.80" y1="531.94" x2="464.80" y2="545.40" stroke="#000" stroke-width="2" />
<line x1="461.10" y1="531.94" x2="468.50" y2="531.94" stroke="#000" stroke-width="2" />
<line x1="461.10" y1="545.40" x2="468.50" y2="545.40" stroke="#000" stroke-width="2" />
<circle cx="464.80" cy="538.79" r="4.2" fill="#000"/>
<line x1="512.90" y1="528.47" x2="512.90" y2="547.88" stroke="#000" stroke-width="2" />
<line x1="509.20" y1="528.47" x2="516.60" y2="528.47" stroke="#000" stroke-width="2" />
<line x1="509.20" y1="547.88" x2="516.60" y2="547.88" stroke="#000" stroke-width="2" />
<circle cx="512.90" cy="540.44" r="4.2" fill="#000"/>
<polyline points="321.20,628.00 369.50,569.35 417.20,497.49 464.80,497.49 512.90,497.49" fill="none" stroke="#08086e" stroke-width="2.5" stroke-linejoin="round" />
<polygon points="315.90,623.68 326.50,623.68 321.20,633.28" fill="#08086e"/>
<polygon points="364.80,565.57 374.20,565.57 369.50,573.97" fill="#08086e"/>
<line x1="417.20" y1="490.47" x2="417.20" y2="504.10" stroke="#08086e" stroke-width="2" />
<line x1="413.50" y1="490.47" x2="420.90" y2="490.47" stroke="#08086e" stroke-width="2" />
<line x1="413.50" y1="504.10" x2="420.90" y2="504.10" stroke="#08086e" stroke-width="2" />
<polygon points="412.50,493.71 421.90,493.71 417.20,502.11" fill="#08086e"/>
<line x1="464.80" y1="494.60" x2="464.80" y2="502.45" stroke="#08086e" stroke-width="2" />
<line x1="461.10" y1="494.60" x2="468.50" y2="494.60" stroke="#08086e" stroke-width="2" />
<line x1="461.10" y1="502.45" x2="468.50" y2="502.45" stroke="#08086e" stroke-width="2" />
<polygon points="460.10,493.71 469.50,493.71 464.80,502.11" fill="#08086e"/>
<polygon points="508.20,493.71 517.60,493.71 512.90,502.11" fill="#08086e"/>
<line x1="305.00" y1="478.70" x2="317.00" y2="478.70" stroke="#000" stroke-width="2" />
<circle cx="311.00" cy="478.70" r="3.5" fill="#000"/>
<text x="320.80" y="481.60" font-size="8.2" text-anchor="start" fill="#000" stroke="#000" stroke-width="0.4" >Fibrin/Fab Ctrl</text>
<line x1="305.00" y1="491.50" x2="317.00" y2="491.50" stroke="#a8a8a8" stroke-width="2" />
<circle cx="311.00" cy="491.50" r="3.5" fill="#a8a8a8"/>
<text x="320.80" y="494.50" font-size="8.2" text-anchor="start" fill="#000" stroke="#000" stroke-width="0.4" >Fibrin/Fab 9O12</text>
<line x1="305.00" y1="506.00" x2="317.00" y2="506.00" stroke="#98692e" stroke-width="2" />
<rect x="307.10" y="502.69" width="7.80" height="6.63" fill="#98692e"/>
<text x="320.80" y="508.80" font-size="8.2" text-anchor="start" fill="#000" stroke="#000" stroke-width="0.4" >FGN/Fab Ctrl</text>
<line x1="305.00" y1="520.00" x2="317.00" y2="520.00" stroke="#4a0f5e" stroke-width="2" />
<polygon points="311.00,515.50 315.20,520.00 311.00,524.50 306.80,520.00" fill="#4a0f5e"/>
<text x="320.80" y="523.20" font-size="8.2" text-anchor="start" fill="#000" stroke="#000" stroke-width="0.4" >FGN/Fab 9O12</text>
<line x1="305.00" y1="534.60" x2="317.00" y2="534.60" stroke="#08086e" stroke-width="2" />
<polygon points="306.60,531.09 315.40,531.09 311.00,538.89" fill="#08086e"/>
<text x="320.80" y="537.40" font-size="8.2" text-anchor="start" fill="#000" stroke="#000" stroke-width="0.4" >Coll I/Fab Ctrl</text>
<line x1="305.00" y1="548.80" x2="317.00" y2="548.80" stroke="#ae0a14" stroke-width="2" />
<polygon points="306.60,552.31 315.40,552.31 311.00,544.51" fill="#ae0a14"/>
<text x="320.80" y="551.60" font-size="8.2" text-anchor="start" fill="#000" stroke="#000" stroke-width="0.4" >Coll I/Fab 9O12</text>
<line x1="305.00" y1="563.30" x2="317.00" y2="563.30" stroke="#0e6a1e" stroke-width="2" />
<circle cx="311.00" cy="563.30" r="3.5" fill="#0e6a1e"/>
<text x="320.80" y="566.20" font-size="8.2" text-anchor="start" fill="#000" stroke="#000" stroke-width="0.4" >BSA</text>
</svg></body></html>
